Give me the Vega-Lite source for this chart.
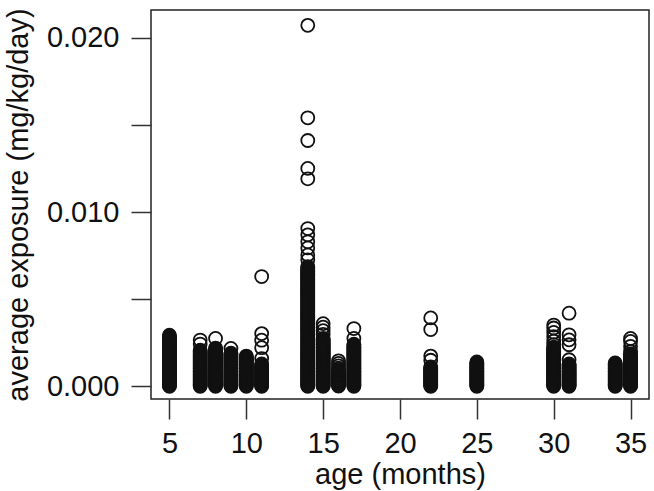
{
"$schema":"https://vega.github.io/schema/vega-lite/v6.json",
"width":498,"height":389,
"autosize":{"type":"none"},
"padding":{"left":151,"top":10,"right":5,"bottom":92},
"background":"white",
"config":{"view":{"stroke":"#222","strokeWidth":1.5},"font":"Liberation Sans"},
"data":{"values":[
{"age":5,"exposure":0.00001},{"age":5,"exposure":0.00005},{"age":5,"exposure":0.0001},{"age":5,"exposure":0.00016},{"age":5,"exposure":0.00021},{"age":5,"exposure":0.00027},{"age":5,"exposure":0.00033},{"age":5,"exposure":0.00038},{"age":5,"exposure":0.00044},{"age":5,"exposure":0.0005},{"age":5,"exposure":0.00055},{"age":5,"exposure":0.00061},{"age":5,"exposure":0.00067},{"age":5,"exposure":0.00072},{"age":5,"exposure":0.00078},{"age":5,"exposure":0.00084},{"age":5,"exposure":0.00089},{"age":5,"exposure":0.00095},{"age":5,"exposure":0.00101},{"age":5,"exposure":0.00106},{"age":5,"exposure":0.00112},{"age":5,"exposure":0.00118},{"age":5,"exposure":0.00123},{"age":5,"exposure":0.00129},{"age":5,"exposure":0.00135},{"age":5,"exposure":0.0014},{"age":5,"exposure":0.00146},{"age":5,"exposure":0.00152},{"age":5,"exposure":0.00157},{"age":5,"exposure":0.00163},{"age":5,"exposure":0.00169},{"age":5,"exposure":0.00174},{"age":5,"exposure":0.0018},{"age":5,"exposure":0.00186},{"age":5,"exposure":0.00191},{"age":5,"exposure":0.00197},{"age":5,"exposure":0.00203},{"age":5,"exposure":0.00208},{"age":5,"exposure":0.00214},{"age":5,"exposure":0.0022},{"age":5,"exposure":0.00225},{"age":5,"exposure":0.00231},{"age":5,"exposure":0.00237},{"age":5,"exposure":0.00242},{"age":5,"exposure":0.00248},{"age":5,"exposure":0.00254},{"age":5,"exposure":0.00259},{"age":5,"exposure":0.00265},{"age":5,"exposure":0.00271},{"age":5,"exposure":0.00276},{"age":5,"exposure":0.00282},{"age":5,"exposure":0.00288},{"age":5,"exposure":0.00294},
{"age":7,"exposure":0.00001},{"age":7,"exposure":0.00005},{"age":7,"exposure":0.0001},{"age":7,"exposure":0.00016},{"age":7,"exposure":0.00021},{"age":7,"exposure":0.00027},{"age":7,"exposure":0.00033},{"age":7,"exposure":0.00038},{"age":7,"exposure":0.00044},{"age":7,"exposure":0.0005},{"age":7,"exposure":0.00055},{"age":7,"exposure":0.00061},{"age":7,"exposure":0.00067},{"age":7,"exposure":0.00072},{"age":7,"exposure":0.00078},{"age":7,"exposure":0.00084},{"age":7,"exposure":0.00089},{"age":7,"exposure":0.00095},{"age":7,"exposure":0.00101},{"age":7,"exposure":0.00106},{"age":7,"exposure":0.00112},{"age":7,"exposure":0.00118},{"age":7,"exposure":0.00123},{"age":7,"exposure":0.00129},{"age":7,"exposure":0.00135},{"age":7,"exposure":0.0014},{"age":7,"exposure":0.00146},{"age":7,"exposure":0.00152},{"age":7,"exposure":0.00157},{"age":7,"exposure":0.00163},{"age":7,"exposure":0.00169},{"age":7,"exposure":0.00174},{"age":7,"exposure":0.0018},{"age":7,"exposure":0.00186},{"age":7,"exposure":0.00191},{"age":7,"exposure":0.00197},{"age":7,"exposure":0.00203},{"age":7,"exposure":0.00208},{"age":7,"exposure":0.00243},{"age":7,"exposure":0.00266},
{"age":8,"exposure":0.00001},{"age":8,"exposure":0.00005},{"age":8,"exposure":0.0001},{"age":8,"exposure":0.00016},{"age":8,"exposure":0.00021},{"age":8,"exposure":0.00027},{"age":8,"exposure":0.00033},{"age":8,"exposure":0.00038},{"age":8,"exposure":0.00044},{"age":8,"exposure":0.0005},{"age":8,"exposure":0.00055},{"age":8,"exposure":0.00061},{"age":8,"exposure":0.00067},{"age":8,"exposure":0.00072},{"age":8,"exposure":0.00078},{"age":8,"exposure":0.00084},{"age":8,"exposure":0.00089},{"age":8,"exposure":0.00095},{"age":8,"exposure":0.00101},{"age":8,"exposure":0.00106},{"age":8,"exposure":0.00112},{"age":8,"exposure":0.00118},{"age":8,"exposure":0.00123},{"age":8,"exposure":0.00129},{"age":8,"exposure":0.00135},{"age":8,"exposure":0.0014},{"age":8,"exposure":0.00146},{"age":8,"exposure":0.00152},{"age":8,"exposure":0.00157},{"age":8,"exposure":0.00163},{"age":8,"exposure":0.00169},{"age":8,"exposure":0.00174},{"age":8,"exposure":0.0018},{"age":8,"exposure":0.00186},{"age":8,"exposure":0.00191},{"age":8,"exposure":0.00197},{"age":8,"exposure":0.00203},{"age":8,"exposure":0.00208},{"age":8,"exposure":0.00214},{"age":8,"exposure":0.0022},{"age":8,"exposure":0.00275},
{"age":9,"exposure":0.00001},{"age":9,"exposure":0.00005},{"age":9,"exposure":0.0001},{"age":9,"exposure":0.00016},{"age":9,"exposure":0.00021},{"age":9,"exposure":0.00027},{"age":9,"exposure":0.00033},{"age":9,"exposure":0.00038},{"age":9,"exposure":0.00044},{"age":9,"exposure":0.0005},{"age":9,"exposure":0.00055},{"age":9,"exposure":0.00061},{"age":9,"exposure":0.00067},{"age":9,"exposure":0.00072},{"age":9,"exposure":0.00078},{"age":9,"exposure":0.00084},{"age":9,"exposure":0.00089},{"age":9,"exposure":0.00095},{"age":9,"exposure":0.00101},{"age":9,"exposure":0.00106},{"age":9,"exposure":0.00112},{"age":9,"exposure":0.00118},{"age":9,"exposure":0.00123},{"age":9,"exposure":0.00129},{"age":9,"exposure":0.00135},{"age":9,"exposure":0.0014},{"age":9,"exposure":0.00146},{"age":9,"exposure":0.00152},{"age":9,"exposure":0.00157},{"age":9,"exposure":0.00163},{"age":9,"exposure":0.00169},{"age":9,"exposure":0.00174},{"age":9,"exposure":0.0018},{"age":9,"exposure":0.00186},{"age":9,"exposure":0.00191},{"age":9,"exposure":0.00218},
{"age":10,"exposure":0.00001},{"age":10,"exposure":0.00005},{"age":10,"exposure":0.0001},{"age":10,"exposure":0.00016},{"age":10,"exposure":0.00021},{"age":10,"exposure":0.00027},{"age":10,"exposure":0.00033},{"age":10,"exposure":0.00038},{"age":10,"exposure":0.00044},{"age":10,"exposure":0.0005},{"age":10,"exposure":0.00055},{"age":10,"exposure":0.00061},{"age":10,"exposure":0.00067},{"age":10,"exposure":0.00072},{"age":10,"exposure":0.00078},{"age":10,"exposure":0.00084},{"age":10,"exposure":0.00089},{"age":10,"exposure":0.00095},{"age":10,"exposure":0.00101},{"age":10,"exposure":0.00106},{"age":10,"exposure":0.00112},{"age":10,"exposure":0.00118},{"age":10,"exposure":0.00123},{"age":10,"exposure":0.00129},{"age":10,"exposure":0.00135},{"age":10,"exposure":0.0014},{"age":10,"exposure":0.00146},{"age":10,"exposure":0.00152},{"age":10,"exposure":0.00157},{"age":10,"exposure":0.00163},{"age":10,"exposure":0.00169},{"age":10,"exposure":0.00174},
{"age":11,"exposure":0.00001},{"age":11,"exposure":0.00005},{"age":11,"exposure":0.0001},{"age":11,"exposure":0.00016},{"age":11,"exposure":0.00021},{"age":11,"exposure":0.00027},{"age":11,"exposure":0.00033},{"age":11,"exposure":0.00038},{"age":11,"exposure":0.00044},{"age":11,"exposure":0.0005},{"age":11,"exposure":0.00055},{"age":11,"exposure":0.00061},{"age":11,"exposure":0.00067},{"age":11,"exposure":0.00072},{"age":11,"exposure":0.00078},{"age":11,"exposure":0.00084},{"age":11,"exposure":0.00089},{"age":11,"exposure":0.00095},{"age":11,"exposure":0.00101},{"age":11,"exposure":0.00106},{"age":11,"exposure":0.00112},{"age":11,"exposure":0.00118},{"age":11,"exposure":0.00123},{"age":11,"exposure":0.00129},{"age":11,"exposure":0.0016},{"age":11,"exposure":0.00222},{"age":11,"exposure":0.00265},{"age":11,"exposure":0.00303},{"age":11,"exposure":0.0063},
{"age":14,"exposure":0.00001},{"age":14,"exposure":0.00005},{"age":14,"exposure":0.0001},{"age":14,"exposure":0.00016},{"age":14,"exposure":0.00021},{"age":14,"exposure":0.00027},{"age":14,"exposure":0.00033},{"age":14,"exposure":0.00038},{"age":14,"exposure":0.00044},{"age":14,"exposure":0.0005},{"age":14,"exposure":0.00055},{"age":14,"exposure":0.00061},{"age":14,"exposure":0.00067},{"age":14,"exposure":0.00072},{"age":14,"exposure":0.00078},{"age":14,"exposure":0.00084},{"age":14,"exposure":0.00089},{"age":14,"exposure":0.00095},{"age":14,"exposure":0.00101},{"age":14,"exposure":0.00106},{"age":14,"exposure":0.00112},{"age":14,"exposure":0.00118},{"age":14,"exposure":0.00123},{"age":14,"exposure":0.00129},{"age":14,"exposure":0.00135},{"age":14,"exposure":0.0014},{"age":14,"exposure":0.00146},{"age":14,"exposure":0.00152},{"age":14,"exposure":0.00157},{"age":14,"exposure":0.00163},{"age":14,"exposure":0.00169},{"age":14,"exposure":0.00174},{"age":14,"exposure":0.0018},{"age":14,"exposure":0.00186},{"age":14,"exposure":0.00191},{"age":14,"exposure":0.00197},{"age":14,"exposure":0.00203},{"age":14,"exposure":0.00208},{"age":14,"exposure":0.00214},{"age":14,"exposure":0.0022},{"age":14,"exposure":0.00225},{"age":14,"exposure":0.00231},{"age":14,"exposure":0.00237},{"age":14,"exposure":0.00242},{"age":14,"exposure":0.00248},{"age":14,"exposure":0.00254},{"age":14,"exposure":0.00259},{"age":14,"exposure":0.00265},{"age":14,"exposure":0.00271},{"age":14,"exposure":0.00276},{"age":14,"exposure":0.00282},{"age":14,"exposure":0.00288},{"age":14,"exposure":0.00294},{"age":14,"exposure":0.003},{"age":14,"exposure":0.00306},{"age":14,"exposure":0.00312},{"age":14,"exposure":0.00317},{"age":14,"exposure":0.00323},{"age":14,"exposure":0.00329},{"age":14,"exposure":0.00335},{"age":14,"exposure":0.0034},{"age":14,"exposure":0.00346},{"age":14,"exposure":0.00352},{"age":14,"exposure":0.00358},{"age":14,"exposure":0.00363},{"age":14,"exposure":0.00369},{"age":14,"exposure":0.00375},{"age":14,"exposure":0.00381},{"age":14,"exposure":0.00386},{"age":14,"exposure":0.00392},{"age":14,"exposure":0.00398},{"age":14,"exposure":0.00404},{"age":14,"exposure":0.00409},{"age":14,"exposure":0.00415},{"age":14,"exposure":0.00421},{"age":14,"exposure":0.00427},{"age":14,"exposure":0.00432},{"age":14,"exposure":0.00438},{"age":14,"exposure":0.00444},{"age":14,"exposure":0.0045},{"age":14,"exposure":0.00455},{"age":14,"exposure":0.00461},{"age":14,"exposure":0.00467},{"age":14,"exposure":0.00473},{"age":14,"exposure":0.00478},{"age":14,"exposure":0.00484},{"age":14,"exposure":0.0049},{"age":14,"exposure":0.00496},{"age":14,"exposure":0.00501},{"age":14,"exposure":0.00507},{"age":14,"exposure":0.00513},{"age":14,"exposure":0.00519},{"age":14,"exposure":0.00524},{"age":14,"exposure":0.0053},{"age":14,"exposure":0.00536},{"age":14,"exposure":0.00542},{"age":14,"exposure":0.00547},{"age":14,"exposure":0.00553},{"age":14,"exposure":0.00559},{"age":14,"exposure":0.00565},{"age":14,"exposure":0.0057},{"age":14,"exposure":0.00576},{"age":14,"exposure":0.00582},{"age":14,"exposure":0.00588},{"age":14,"exposure":0.00593},{"age":14,"exposure":0.00599},{"age":14,"exposure":0.00605},{"age":14,"exposure":0.00611},{"age":14,"exposure":0.00616},{"age":14,"exposure":0.00622},{"age":14,"exposure":0.00628},{"age":14,"exposure":0.00634},{"age":14,"exposure":0.00639},{"age":14,"exposure":0.00645},{"age":14,"exposure":0.00651},{"age":14,"exposure":0.00657},{"age":14,"exposure":0.00662},{"age":14,"exposure":0.00668},{"age":14,"exposure":0.00674},{"age":14,"exposure":0.0068},{"age":14,"exposure":0.00686},{"age":14,"exposure":0.00726},{"age":14,"exposure":0.00754},{"age":14,"exposure":0.00794},{"age":14,"exposure":0.00829},{"age":14,"exposure":0.00869},{"age":14,"exposure":0.00905},{"age":14,"exposure":0.0119},{"age":14,"exposure":0.0125},{"age":14,"exposure":0.0141},{"age":14,"exposure":0.0154},{"age":14,"exposure":0.0207},
{"age":15,"exposure":0.00001},{"age":15,"exposure":0.00005},{"age":15,"exposure":0.0001},{"age":15,"exposure":0.00016},{"age":15,"exposure":0.00021},{"age":15,"exposure":0.00027},{"age":15,"exposure":0.00033},{"age":15,"exposure":0.00038},{"age":15,"exposure":0.00044},{"age":15,"exposure":0.0005},{"age":15,"exposure":0.00055},{"age":15,"exposure":0.00061},{"age":15,"exposure":0.00067},{"age":15,"exposure":0.00072},{"age":15,"exposure":0.00078},{"age":15,"exposure":0.00084},{"age":15,"exposure":0.00089},{"age":15,"exposure":0.00095},{"age":15,"exposure":0.00101},{"age":15,"exposure":0.00106},{"age":15,"exposure":0.00112},{"age":15,"exposure":0.00118},{"age":15,"exposure":0.00123},{"age":15,"exposure":0.00129},{"age":15,"exposure":0.00135},{"age":15,"exposure":0.0014},{"age":15,"exposure":0.00146},{"age":15,"exposure":0.00152},{"age":15,"exposure":0.00157},{"age":15,"exposure":0.00163},{"age":15,"exposure":0.00169},{"age":15,"exposure":0.00174},{"age":15,"exposure":0.0018},{"age":15,"exposure":0.00186},{"age":15,"exposure":0.00191},{"age":15,"exposure":0.00197},{"age":15,"exposure":0.00203},{"age":15,"exposure":0.00208},{"age":15,"exposure":0.00214},{"age":15,"exposure":0.0022},{"age":15,"exposure":0.00225},{"age":15,"exposure":0.00231},{"age":15,"exposure":0.00237},{"age":15,"exposure":0.00242},{"age":15,"exposure":0.00248},{"age":15,"exposure":0.00254},{"age":15,"exposure":0.00259},{"age":15,"exposure":0.00265},{"age":15,"exposure":0.00271},{"age":15,"exposure":0.00276},{"age":15,"exposure":0.00298},{"age":15,"exposure":0.0032},{"age":15,"exposure":0.0034},{"age":15,"exposure":0.0036},
{"age":16,"exposure":0.00002},{"age":16,"exposure":0.00006},{"age":16,"exposure":0.00011},{"age":16,"exposure":0.00017},{"age":16,"exposure":0.00024},{"age":16,"exposure":0.0003},{"age":16,"exposure":0.00037},{"age":16,"exposure":0.00044},{"age":16,"exposure":0.0005},{"age":16,"exposure":0.00057},{"age":16,"exposure":0.00064},{"age":16,"exposure":0.0007},{"age":16,"exposure":0.00077},{"age":16,"exposure":0.00084},{"age":16,"exposure":0.0009},{"age":16,"exposure":0.00098},{"age":16,"exposure":0.00105},{"age":16,"exposure":0.00118},{"age":16,"exposure":0.00132},{"age":16,"exposure":0.00147},
{"age":17,"exposure":0.00001},{"age":17,"exposure":0.00005},{"age":17,"exposure":0.0001},{"age":17,"exposure":0.00016},{"age":17,"exposure":0.00021},{"age":17,"exposure":0.00027},{"age":17,"exposure":0.00033},{"age":17,"exposure":0.00038},{"age":17,"exposure":0.00044},{"age":17,"exposure":0.0005},{"age":17,"exposure":0.00055},{"age":17,"exposure":0.00061},{"age":17,"exposure":0.00067},{"age":17,"exposure":0.00072},{"age":17,"exposure":0.00078},{"age":17,"exposure":0.00084},{"age":17,"exposure":0.00089},{"age":17,"exposure":0.00095},{"age":17,"exposure":0.00101},{"age":17,"exposure":0.00106},{"age":17,"exposure":0.00112},{"age":17,"exposure":0.00118},{"age":17,"exposure":0.00123},{"age":17,"exposure":0.00129},{"age":17,"exposure":0.00135},{"age":17,"exposure":0.0014},{"age":17,"exposure":0.00146},{"age":17,"exposure":0.00152},{"age":17,"exposure":0.00157},{"age":17,"exposure":0.00163},{"age":17,"exposure":0.00169},{"age":17,"exposure":0.00174},{"age":17,"exposure":0.0018},{"age":17,"exposure":0.00186},{"age":17,"exposure":0.00191},{"age":17,"exposure":0.00197},{"age":17,"exposure":0.00203},{"age":17,"exposure":0.00208},{"age":17,"exposure":0.00214},{"age":17,"exposure":0.0022},{"age":17,"exposure":0.00225},{"age":17,"exposure":0.00231},{"age":17,"exposure":0.00237},{"age":17,"exposure":0.00242},{"age":17,"exposure":0.00275},{"age":17,"exposure":0.00332},
{"age":22,"exposure":0.00001},{"age":22,"exposure":0.00005},{"age":22,"exposure":0.0001},{"age":22,"exposure":0.00016},{"age":22,"exposure":0.00021},{"age":22,"exposure":0.00027},{"age":22,"exposure":0.00033},{"age":22,"exposure":0.00038},{"age":22,"exposure":0.00044},{"age":22,"exposure":0.0005},{"age":22,"exposure":0.00055},{"age":22,"exposure":0.00061},{"age":22,"exposure":0.00067},{"age":22,"exposure":0.00072},{"age":22,"exposure":0.00078},{"age":22,"exposure":0.00084},{"age":22,"exposure":0.00089},{"age":22,"exposure":0.00095},{"age":22,"exposure":0.00101},{"age":22,"exposure":0.00106},{"age":22,"exposure":0.00112},{"age":22,"exposure":0.0015},{"age":22,"exposure":0.00174},{"age":22,"exposure":0.00326},{"age":22,"exposure":0.00393},
{"age":25,"exposure":0.00001},{"age":25,"exposure":0.00005},{"age":25,"exposure":0.0001},{"age":25,"exposure":0.00016},{"age":25,"exposure":0.00021},{"age":25,"exposure":0.00027},{"age":25,"exposure":0.00033},{"age":25,"exposure":0.00038},{"age":25,"exposure":0.00044},{"age":25,"exposure":0.0005},{"age":25,"exposure":0.00055},{"age":25,"exposure":0.00061},{"age":25,"exposure":0.00067},{"age":25,"exposure":0.00072},{"age":25,"exposure":0.00078},{"age":25,"exposure":0.00084},{"age":25,"exposure":0.00089},{"age":25,"exposure":0.00095},{"age":25,"exposure":0.00101},{"age":25,"exposure":0.00106},{"age":25,"exposure":0.00112},{"age":25,"exposure":0.00118},{"age":25,"exposure":0.00123},{"age":25,"exposure":0.00129},{"age":25,"exposure":0.00135},{"age":25,"exposure":0.0014},
{"age":30,"exposure":0.00001},{"age":30,"exposure":0.00005},{"age":30,"exposure":0.0001},{"age":30,"exposure":0.00016},{"age":30,"exposure":0.00021},{"age":30,"exposure":0.00027},{"age":30,"exposure":0.00033},{"age":30,"exposure":0.00038},{"age":30,"exposure":0.00044},{"age":30,"exposure":0.0005},{"age":30,"exposure":0.00055},{"age":30,"exposure":0.00061},{"age":30,"exposure":0.00067},{"age":30,"exposure":0.00072},{"age":30,"exposure":0.00078},{"age":30,"exposure":0.00084},{"age":30,"exposure":0.00089},{"age":30,"exposure":0.00095},{"age":30,"exposure":0.00101},{"age":30,"exposure":0.00106},{"age":30,"exposure":0.00112},{"age":30,"exposure":0.00118},{"age":30,"exposure":0.00123},{"age":30,"exposure":0.00129},{"age":30,"exposure":0.00135},{"age":30,"exposure":0.0014},{"age":30,"exposure":0.00146},{"age":30,"exposure":0.00152},{"age":30,"exposure":0.00157},{"age":30,"exposure":0.00163},{"age":30,"exposure":0.00169},{"age":30,"exposure":0.00174},{"age":30,"exposure":0.0018},{"age":30,"exposure":0.00186},{"age":30,"exposure":0.00191},{"age":30,"exposure":0.00197},{"age":30,"exposure":0.00203},{"age":30,"exposure":0.00208},{"age":30,"exposure":0.00214},{"age":30,"exposure":0.0022},{"age":30,"exposure":0.00225},{"age":30,"exposure":0.0024},{"age":30,"exposure":0.0026},{"age":30,"exposure":0.00285},{"age":30,"exposure":0.0031},{"age":30,"exposure":0.00335},{"age":30,"exposure":0.00352},
{"age":31,"exposure":0.00001},{"age":31,"exposure":0.00005},{"age":31,"exposure":0.0001},{"age":31,"exposure":0.00016},{"age":31,"exposure":0.00021},{"age":31,"exposure":0.00027},{"age":31,"exposure":0.00033},{"age":31,"exposure":0.00038},{"age":31,"exposure":0.00044},{"age":31,"exposure":0.0005},{"age":31,"exposure":0.00055},{"age":31,"exposure":0.00061},{"age":31,"exposure":0.00067},{"age":31,"exposure":0.00072},{"age":31,"exposure":0.00078},{"age":31,"exposure":0.00084},{"age":31,"exposure":0.00089},{"age":31,"exposure":0.00095},{"age":31,"exposure":0.00101},{"age":31,"exposure":0.00106},{"age":31,"exposure":0.00112},{"age":31,"exposure":0.00118},{"age":31,"exposure":0.00123},{"age":31,"exposure":0.00129},{"age":31,"exposure":0.00153},{"age":31,"exposure":0.00239},{"age":31,"exposure":0.00267},{"age":31,"exposure":0.00296},{"age":31,"exposure":0.0042},
{"age":34,"exposure":0.00001},{"age":34,"exposure":0.00005},{"age":34,"exposure":0.0001},{"age":34,"exposure":0.00016},{"age":34,"exposure":0.00021},{"age":34,"exposure":0.00027},{"age":34,"exposure":0.00033},{"age":34,"exposure":0.00038},{"age":34,"exposure":0.00044},{"age":34,"exposure":0.0005},{"age":34,"exposure":0.00055},{"age":34,"exposure":0.00061},{"age":34,"exposure":0.00067},{"age":34,"exposure":0.00072},{"age":34,"exposure":0.00078},{"age":34,"exposure":0.00084},{"age":34,"exposure":0.00089},{"age":34,"exposure":0.00095},{"age":34,"exposure":0.00101},{"age":34,"exposure":0.00106},{"age":34,"exposure":0.00112},{"age":34,"exposure":0.00118},{"age":34,"exposure":0.00123},{"age":34,"exposure":0.00129},{"age":34,"exposure":0.00135},
{"age":35,"exposure":0.00001},{"age":35,"exposure":0.00005},{"age":35,"exposure":0.0001},{"age":35,"exposure":0.00016},{"age":35,"exposure":0.00021},{"age":35,"exposure":0.00027},{"age":35,"exposure":0.00033},{"age":35,"exposure":0.00038},{"age":35,"exposure":0.00044},{"age":35,"exposure":0.0005},{"age":35,"exposure":0.00055},{"age":35,"exposure":0.00061},{"age":35,"exposure":0.00067},{"age":35,"exposure":0.00072},{"age":35,"exposure":0.00078},{"age":35,"exposure":0.00084},{"age":35,"exposure":0.00089},{"age":35,"exposure":0.00095},{"age":35,"exposure":0.00101},{"age":35,"exposure":0.00106},{"age":35,"exposure":0.00112},{"age":35,"exposure":0.00118},{"age":35,"exposure":0.00123},{"age":35,"exposure":0.00129},{"age":35,"exposure":0.00135},{"age":35,"exposure":0.0014},{"age":35,"exposure":0.00146},{"age":35,"exposure":0.00152},{"age":35,"exposure":0.00157},{"age":35,"exposure":0.00163},{"age":35,"exposure":0.00169},{"age":35,"exposure":0.00174},{"age":35,"exposure":0.0018},{"age":35,"exposure":0.00186},{"age":35,"exposure":0.002},{"age":35,"exposure":0.0023},{"age":35,"exposure":0.00258},{"age":35,"exposure":0.00275}
]},
"mark":{"type":"point","shape":"circle","filled":false,"size":169,"strokeWidth":1.8,"color":"#111","opacity":1},
"encoding":{
"x":{"field":"age","type":"quantitative","scale":{"domain":[3.8,36.2],"nice":false,"zero":false},
"axis":{"values":[5,10,15,20,25,30,35],"domain":false,"grid":false,"tickSize":20,"tickColor":"#333","tickWidth":1.5,"labelPadding":10,"labelFontSize":29,"labelColor":"#111","labelFont":"Liberation Sans","title":"age (months)","titleFont":"Liberation Sans","titleFontSize":29,"titleFontWeight":"normal","titleColor":"#111","titlePadding":2}},
"y":{"field":"exposure","type":"quantitative","scale":{"domain":[-0.00072,0.02158],"nice":false,"zero":false},
"axis":{"values":[0,0.005,0.01,0.015,0.02],"labelExpr":"abs(datum.value - round(datum.value*100)/100) < 1e-9 ? format(datum.value, '.3f') : ''","domain":false,"grid":false,"tickSize":20,"tickColor":"#333","tickWidth":1.5,"labelPadding":12,"labelFontSize":29,"labelColor":"#111","labelFont":"Liberation Sans","title":"average exposure (mg/kg/day)","titleFont":"Liberation Sans","titleFontSize":29,"titleFontWeight":"normal","titleColor":"#111","titlePadding":13}}
}
}
